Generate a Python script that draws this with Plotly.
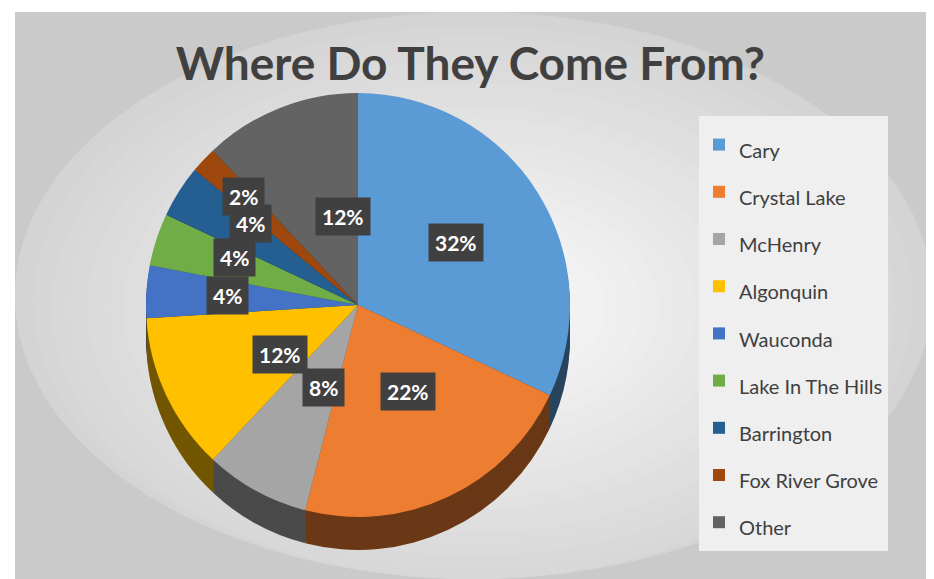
import math
import plotly.graph_objects as go

# ---- data ----
labels = ["Cary", "Crystal Lake", "McHenry", "Algonquin", "Wauconda",
          "Lake In The Hills", "Barrington", "Fox River Grove", "Other"]
values = [32, 22, 8, 12, 4, 4, 4, 2, 12]
colors = ["#5B9BD5", "#ED7D31", "#A5A5A5", "#FFC000", "#4472C4",
          "#70AD47", "#255E91", "#9E480E", "#636363"]
title_text = "Where Do They Come From?"

W, H = 934, 579
cx, cy, R = 350, 297, 212   # pie centre / radius in px
depth = 33                   # 3-D wall thickness in px


def darken(hexcol, f):
    h = hexcol.lstrip("#")
    r, g, b = (int(h[i:i + 2], 16) for i in (0, 2, 4))
    return "#%02x%02x%02x" % (int(r * f), int(g * f), int(b * f))


def domain(off):
    return dict(x=[(cx - R) / W, (cx + R) / W],
                y=[1 - (cy + off + R) / H, 1 - (cy + off - R) / H])


fig = go.Figure()

side_cols = [darken(c, 0.45) for c in colors]
for off in range(depth, 0, -3):
    fig.add_trace(go.Pie(labels=labels, values=values, sort=False,
                         direction="clockwise", rotation=0,
                         marker=dict(colors=side_cols, line=dict(width=0)),
                         textinfo="none", hoverinfo="skip",
                         showlegend=False, domain=domain(off)))

legend_labels = ['<span style="font-size:20px">%s</span>' % l for l in labels]
fig.add_trace(go.Pie(labels=legend_labels, values=values, sort=False,
                     direction="clockwise", rotation=0,
                     marker=dict(colors=colors, line=dict(width=0)),
                     textinfo="none", hovertext=labels, hoverinfo="text+percent",
                     domain=domain(0)))

# percentage labels with dark boxes
total = sum(values)
annotations = []
cum = 0
for v in values:
    mid = (cum + v / 2) / total * 2 * math.pi
    cum += v
    f = 0.55 if v >= 8 else (0.72 if v >= 4 else 0.88)
    px = cx + f * R * math.sin(mid)
    py = cy - f * R * math.cos(mid)
    annotations.append(dict(x=px / W, y=1 - py / H, xref="paper", yref="paper",
                            text="<b>%d%%</b>" % round(v / total * 100),
                            showarrow=False, bgcolor="#404040",
                            font=dict(family="Lato", size=21, color="white"),
                            borderpad=6))

# background: gray frame with a smooth light centre
fx0, fx1, fy0, fy1 = 7, 924, 4, 571
shapes = [dict(type="rect", xref="paper", yref="paper",
               x0=fx0 / W, x1=fx1 / W, y0=1 - fy1 / H, y1=1 - fy0 / H,
               fillcolor="#cacaca", line=dict(width=0), layer="below")]
n = 26
ex, ey = 465, 300
for i in range(n):
    k = 1 - i / n
    rx, ry = 470 * k + 60, 300 * k + 40
    g = int(0xcd + (0xf6 - 0xcd) * (i + 1) / n)
    col = "#%02x%02x%02x" % (g, g, g)
    shapes.append(dict(type="circle", xref="paper", yref="paper",
                       x0=max(fx0, ex - rx) / W, x1=min(fx1, ex + rx) / W,
                       y0=1 - min(fy1, ey + ry) / H, y1=1 - max(fy0, ey - ry) / H,
                       fillcolor=col, line=dict(width=0), layer="below"))

fig.update_layout(
    width=W, height=H,
    margin=dict(l=0, r=0, t=0, b=0),
    paper_bgcolor="white",
    font=dict(family="Lato", color="#404040"),
    title=dict(text="<b>%s</b>" % title_text, x=0.495, xanchor="center",
               y=1 - 56 / H, yanchor="middle",
               font=dict(family="Lato", size=46, color="#404040")),
    legend=dict(x=691 / W, xanchor="left", y=1 - 108 / H, yanchor="top",
                bgcolor="#efefef", font=dict(size=34, color="#404040"),
                entrywidth=190, entrywidthmode="pixels"),
    annotations=annotations,
    shapes=shapes,
)

fig.write_html("out.html")
